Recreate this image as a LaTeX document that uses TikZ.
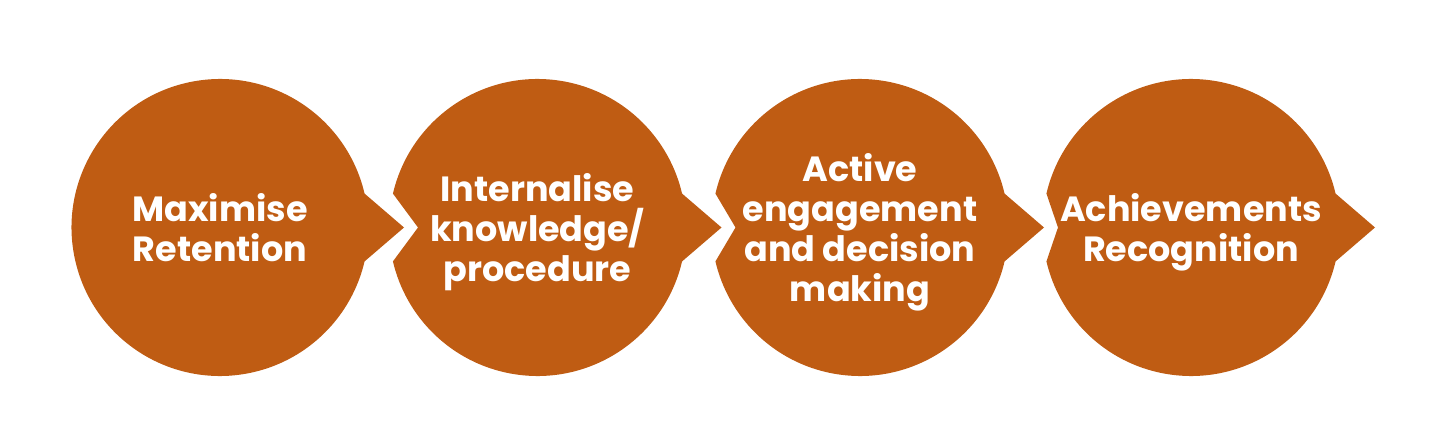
\documentclass[tikz,border=0pt]{standalone}
\usepackage{fontspec}
\setmainfont{Poppins}
\usepackage{tikz}
\usetikzlibrary{positioning, calc, backgrounds}
\definecolor{rust}{HTML}{BF5C13}

\begin{document}
\begin{tikzpicture}[x=1pt, y=1pt,
        every node/.style={font=\fontsize{35}{40}\selectfont\bfseries, text=white},
        stage/.style={circle, minimum size=297pt, inner sep=0pt, outer sep=0pt,
          align=center, text depth=0pt},
        blob/.style={fill=rust, draw=none}]
      \useasboundingbox (0,0) rectangle (1446,440);
      \node[stage] (c1) at (220,212.5) {Maximise\\Retention};
      \node[stage, right=20.5pt of c1] (c2) {Internalise\\knowledge/\\procedure};
      \node[stage, right=25.5pt of c2] (c3) {Active\\engagement\\and decision\\making};
      \node[stage, right=34pt of c3] (c4) {Achievements\\Recognition};
      % arrow tips, and the notches cut for them
      \foreach \i in {1,...,4} \coordinate (t\i) at ($(c\i)+(184,0)$);
      \foreach \i/\j in {2/1,3/2,4/3} \coordinate (n\i) at ($(t\j)+(14,0)$);
      \begin{scope}[on background layer]
        \fill[blob] ($(c1)+(13.2:148.5)$) arc[start angle=13.2, end angle=346.8, radius=148.5]
          -- (t1) -- cycle;
        \foreach \i in {2,3,4}
          \fill[blob] ($(c\i)+(166.8:148.5)$) arc[start angle=166.8, end angle=13.2, radius=148.5]
            -- (t\i) -- ($(c\i)+(-13.2:148.5)$) arc[start angle=-13.2, end angle=-166.8, radius=148.5]
            -- (n\i) -- cycle;
      \end{scope}
    \end{tikzpicture}
\end{document}
